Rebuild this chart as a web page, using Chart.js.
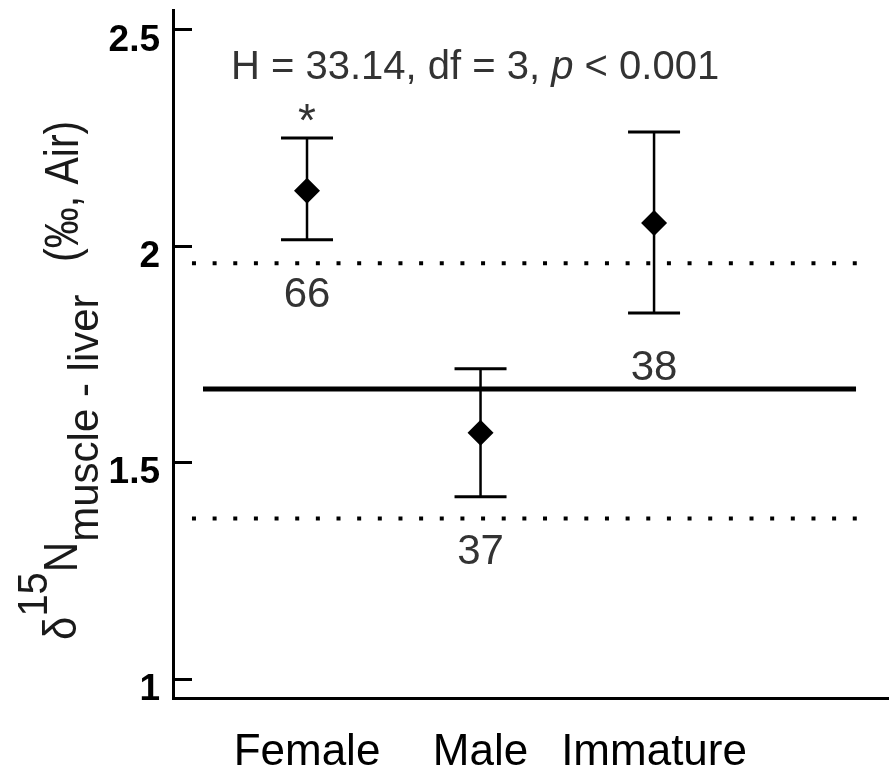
<!DOCTYPE html>
<html><head><meta charset="utf-8">
<script src="https://cdn.jsdelivr.net/npm/chart.js@4"></script>
<style>html,body{margin:0;padding:0;background:#fff;overflow:hidden;}</style>
</head><body>
<canvas id="c" width="889" height="778" style="display:block;width:889px;height:778px"></canvas>
<script>
// ---- data ----
const categories = ['Female', 'Male', 'Immature'];
const means = [2.127, 1.568, 2.053];
const upperCI = [2.249, 1.716, 2.263];
const lowerCI = [2.014, 1.420, 1.845];
const sampleSizes = [66, 37, 38];
const significance = ['*', '', ''];
const overallMean = 1.669;
const upperLimit = 1.960;
const lowerLimit = 1.370;
const yTicks = [1, 1.5, 2, 2.5];
const statsText = ['H = 33.14, df = 3, ', 'p', ' < 0.001'];

// ---- layout constants ----
const FONT = '"Liberation Sans", Arial, Helvetica, sans-serif';
const X_MIN = 0.2277, X_MAX = 4.354;
const Y_MIN = 0.955, Y_MAX = 2.545;
const SOLID_X = [0.4006, 4.164];
const DOT_X = [0.337, 4.17];
const TEXT_GREY = '#333333';

const pts = categories.map((c, i) => ({x: i + 1, y: means[i]}));
const hline = (y, xs) => [{x: xs[0], y: y}, {x: xs[1], y: y}];

const errorBars = {
  id: 'errorBars',
  beforeDatasetsDraw(chart) {
    const {ctx, scales: {x, y}} = chart;
    ctx.save();
    ctx.strokeStyle = '#000';
    categories.forEach((c, i) => {
      const px = x.getPixelForValue(i + 1);
      const yt = y.getPixelForValue(upperCI[i]);
      const yb = y.getPixelForValue(lowerCI[i]);
      ctx.lineWidth = 2.5;
      ctx.beginPath(); ctx.moveTo(px, yt); ctx.lineTo(px, yb); ctx.stroke();
      ctx.lineWidth = 3;
      ctx.beginPath();
      ctx.moveTo(px - 26, yt); ctx.lineTo(px + 26, yt);
      ctx.moveTo(px - 26, yb); ctx.lineTo(px + 26, yb);
      ctx.stroke();
    });
    ctx.restore();
  }
};

const decorations = {
  id: 'decorations',
  afterDraw(chart) {
    const {ctx, chartArea, scales: {x, y}} = chart;
    ctx.save();
    // inside tick marks on y axis
    ctx.strokeStyle = '#000'; ctx.lineWidth = 3;
    yTicks.forEach(v => {
      const py = Math.round(y.getPixelForValue(v)) + 0.5;
      ctx.beginPath(); ctx.moveTo(chartArea.left, py); ctx.lineTo(chartArea.left + 19, py); ctx.stroke();
    });
    // sample sizes and significance marks
    ctx.fillStyle = TEXT_GREY;
    ctx.textAlign = 'center'; ctx.textBaseline = 'alphabetic';
    categories.forEach((c, i) => {
      const px = x.getPixelForValue(i + 1);
      ctx.font = '42px ' + FONT;
      ctx.fillText(String(sampleSizes[i]), px, y.getPixelForValue(lowerCI[i]) + 67);
      if (significance[i]) {
        ctx.font = '46px ' + FONT;
        ctx.fillText(significance[i], px, y.getPixelForValue(upperCI[i]) - 2);
      }
    });
    // statistics annotation
    ctx.textAlign = 'left';
    let sx = 231;
    const sy = 79;
    statsText.forEach((t, k) => {
      ctx.font = (k === 1 ? 'italic ' : '') + '40px ' + FONT;
      ctx.fillText(t, sx, sy);
      sx += ctx.measureText(t).width;
    });
    // rotated y-axis title
    ctx.fillStyle = '#1a1a1a';
    ctx.rotate(-Math.PI / 2);
    const seg = (txt, size, base, u, k) => {
      ctx.font = size + 'px ' + FONT;
      ctx.save();
      ctx.scale(1, k);
      ctx.fillText(txt, u, base / k);
      ctx.restore();
      return u + ctx.measureText(txt).width;
    };
    let u = -640;
    u = seg('\u03B4', 42, 76, u, 1.12);
    u = seg('15', 40, 47, u, 1.05);
    u = seg('N', 42, 77, u, 1.13);
    u = seg('muscle - liver', 42, 98, u, 1.0);
    seg('(\u2030, Air)', 41, 78, -262, 1.15);
    ctx.restore();
  }
};

new Chart(document.getElementById('c'), {
  type: 'scatter',
  data: {
    datasets: [
      {data: pts, pointStyle: 'rectRot', pointRadius: 13, pointHoverRadius: 13,
       backgroundColor: '#000', borderColor: '#000', borderWidth: 0, order: 0},
      {type: 'line', data: hline(overallMean, SOLID_X), borderColor: '#000', borderWidth: 5,
       pointRadius: 0, fill: false, order: 1},
      {type: 'line', data: hline(upperLimit, DOT_X), borderColor: '#000', borderWidth: 4,
       borderDash: [4, 16.65], borderCapStyle: 'butt', pointRadius: 0, fill: false, order: 1},
      {type: 'line', data: hline(lowerLimit, DOT_X), borderColor: '#000', borderWidth: 4,
       borderDash: [4, 16.65], borderCapStyle: 'butt', pointRadius: 0, fill: false, order: 1}
    ]
  },
  options: {
    responsive: false,
    animation: false,
    devicePixelRatio: 1,
    layout: {autoPadding: false, padding: {top: 10, left: 0, right: 0, bottom: 0}},
    plugins: {legend: {display: false}, tooltip: {enabled: false}},
    scales: {
      x: {
        type: 'linear', min: X_MIN, max: X_MAX,
        afterBuildTicks: s => { s.ticks = categories.map((c, i) => ({value: i + 1})); },
        afterFit: s => { s.height = 80; s.paddingLeft = 0; s.paddingRight = 0; },
        ticks: {callback: v => categories[v - 1], font: {family: FONT, size: 44}, color: '#000', padding: 28, maxRotation: 0, autoSkip: false},
        grid: {display: false, drawTicks: false},
        border: {display: true, color: '#000', width: 3}
      },
      y: {
        type: 'linear', min: Y_MIN, max: Y_MAX,
        afterBuildTicks: s => { s.ticks = yTicks.map(v => ({value: v})); },
        afterFit: s => { s.width = 173; s.paddingTop = 0; s.paddingBottom = 0; },
        ticks: {callback: v => String(v), font: {family: FONT, size: 37, weight: 'bold'}, color: '#000', padding: 13, labelOffset: 11, autoSkip: false},
        grid: {display: false, drawTicks: false},
        border: {display: true, color: '#000', width: 3}
      }
    }
  },
  plugins: [errorBars, decorations]
});
</script>
</body></html>
